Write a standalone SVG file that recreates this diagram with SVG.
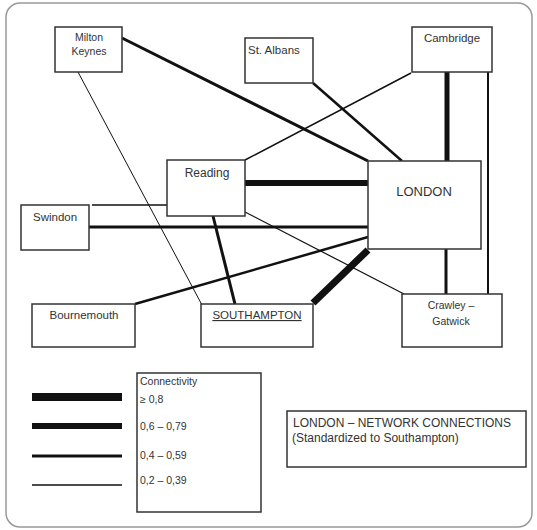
<svg xmlns="http://www.w3.org/2000/svg" width="537" height="530" viewBox="0 0 537 530">
<style>
.box{fill:#fff;stroke:#333;stroke-width:1.5}
.t{font-family:"Liberation Sans",Arial,sans-serif;font-size:11.5px;fill:#333}
.s{font-size:10.5px}
.c{text-anchor:middle}
.ln{stroke:#111;fill:none;stroke-linecap:butt}
</style>
<rect x="0" y="0" width="537" height="530" fill="#fff"/>
<rect x="6" y="3" width="526" height="524" rx="14" fill="#fff" stroke="#999" stroke-width="1.5"/>
<g id="connectors">
<line class="ln" x1="122" y1="38" x2="368" y2="161" stroke-width="3"/>
<line class="ln" x1="78" y1="72" x2="202" y2="305" stroke-width="1"/>
<line class="ln" x1="313" y1="83" x2="402" y2="161" stroke-width="2.5"/>
<line class="ln" x1="411" y1="73" x2="245" y2="160" stroke-width="1.5"/>
<line class="ln" x1="447" y1="72" x2="447" y2="161" stroke-width="5"/>
<line class="ln" x1="488" y1="72" x2="488" y2="294" stroke-width="2"/>
<line class="ln" x1="245" y1="183" x2="368" y2="183" stroke-width="6"/>
<line class="ln" x1="92" y1="205" x2="167" y2="205" stroke-width="1.5"/>
<line class="ln" x1="89" y1="227" x2="368" y2="227" stroke-width="3"/>
<line class="ln" x1="213" y1="216" x2="235" y2="304" stroke-width="3"/>
<line class="ln" x1="245" y1="212" x2="404" y2="294" stroke-width="1.2"/>
<line class="ln" x1="135" y1="304" x2="368" y2="237" stroke-width="2.5"/>
<line class="ln" x1="313" y1="303" x2="368" y2="250" stroke-width="7"/>
<line class="ln" x1="446" y1="249" x2="446" y2="294" stroke-width="3"/>
</g>
<g id="milton-keynes"><rect class="box" x="55" y="27" width="67" height="45"/><text class="t c s" x="89" y="41">Milton</text><text class="t c s" x="89" y="55">Keynes</text></g>
<g id="st-albans"><rect class="box" x="245" y="38" width="68" height="45"/><text class="t" x="248" y="54">St. Albans</text></g>
<g id="cambridge"><rect class="box" x="412" y="27" width="80" height="45"/><text class="t c" x="452" y="42">Cambridge</text></g>
<g id="london"><rect class="box" x="368" y="161" width="113" height="88"/><text class="t c" x="424" y="196" style="font-size:13px">LONDON</text></g>
<g id="reading"><rect class="box" x="167" y="160" width="78" height="56"/><text class="t c" x="207" y="177" style="font-size:12px">Reading</text></g>
<g id="swindon"><rect class="box" x="21" y="205" width="68" height="45"/><text class="t" x="33" y="221">Swindon</text></g>
<g id="bournemouth"><rect class="box" x="32" y="304" width="103" height="43"/><text class="t c" x="84" y="319">Bournemouth</text></g>
<g id="southampton"><rect class="box" x="201" y="304" width="112" height="43"/><text class="t c" x="257" y="319" text-decoration="underline">SOUTHAMPTON</text></g>
<g id="crawley-gatwick"><rect class="box" x="402" y="294" width="100" height="53"/><text class="t c s" x="451" y="309">Crawley –</text><text class="t c s" x="451" y="325">Gatwick</text></g>
<g id="legend">
<rect class="box" x="137" y="373" width="124" height="139"/>
<text class="t s" x="140" y="385">Connectivity</text>
<text class="t s" x="140" y="403">≥ 0,8</text>
<text class="t s" x="140" y="430">0,6 – 0,79</text>
<text class="t s" x="140" y="459">0,4 – 0,59</text>
<text class="t s" x="140" y="484">0,2 – 0,39</text>
<line class="ln" x1="32" y1="397" x2="122" y2="397" stroke-width="8"/>
<line class="ln" x1="32" y1="426" x2="122" y2="426" stroke-width="6"/>
<line class="ln" x1="32" y1="456" x2="122" y2="456" stroke-width="3"/>
<line class="ln" x1="32" y1="485" x2="122" y2="485" stroke-width="1.5"/>
</g>
<g id="title"><rect class="box" x="287" y="411" width="239" height="56"/><text class="t" x="293" y="427" style="font-size:12px">LONDON – NETWORK CONNECTIONS</text><text class="t" x="292" y="442" style="font-size:12px">(Standardized to Southampton)</text></g>
</svg>
